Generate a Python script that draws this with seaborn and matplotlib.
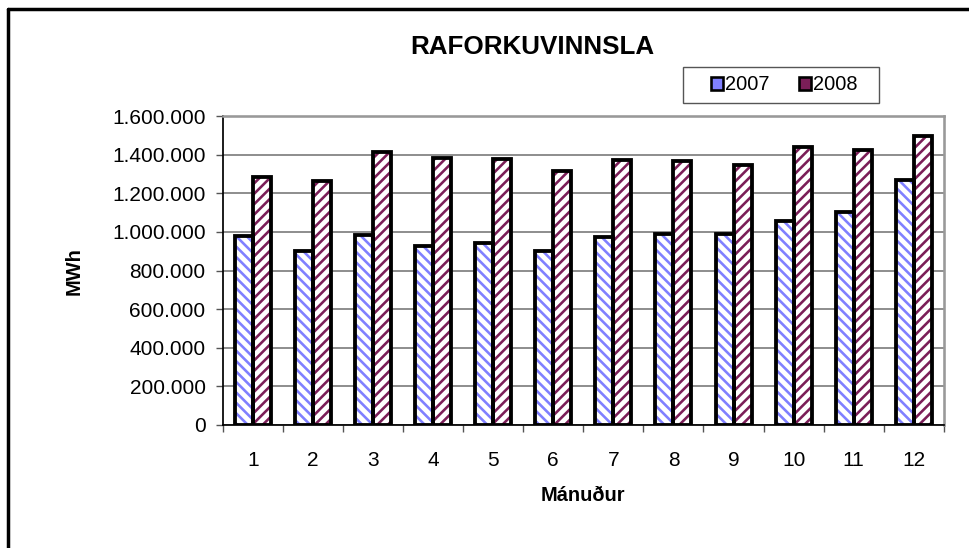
import pandas as pd
import seaborn as sns
import matplotlib.pyplot as plt
from matplotlib.patches import Rectangle, Patch
from matplotlib.lines import Line2D
from matplotlib.ticker import FuncFormatter, MultipleLocator

# monthly electricity production (MWh)
months = list(range(1, 13))
prod_2007 = [980000, 899000, 985000, 925000, 944000, 904000,
             973000, 992000, 987000, 1056000, 1105000, 1268000]
prod_2008 = [1286000, 1266000, 1412000, 1385000, 1379000, 1316000,
             1371000, 1367000, 1345000, 1438000, 1423000, 1497000]
years = ['2007', '2008']

df = pd.DataFrame({
    'Mánuður': months * 2,
    'MWh': prod_2007 + prod_2008,
    'Ár': [years[0]] * 12 + [years[1]] * 12,
})

sns.set_theme(style='white')
plt.rcParams['font.family'] = ['Liberation Sans', 'DejaVu Sans']
plt.rcParams['hatch.linewidth'] = 1.5
plt.rcParams['text.color'] = 'black'
plt.rcParams['axes.labelcolor'] = 'black'
plt.rcParams['xtick.labelcolor'] = 'black'
plt.rcParams['ytick.labelcolor'] = 'black'

fig = plt.figure(figsize=(969 / 125, 548 / 125), dpi=125)
ax = fig.add_axes([0.230, 0.2245, 0.744, 0.5635])

sns.barplot(data=df, x='Mánuður', y='MWh', hue='Ár', palette=['white', 'white'],
            width=0.6, gap=0, saturation=1, legend=False, ax=ax)

hatch_colors = {'2007': '#8080ff', '2008': '#7b1e58'}
hatches = {'2007': '\\\\\\\\', '2008': '////'}

for cont, yr in zip(ax.containers, years):
    for bar in cont:
        bar.set_hatch(hatches[yr])
        bar.set_edgecolor(hatch_colors[yr])
        bar.set_linewidth(0)
        ax.add_patch(Rectangle(bar.get_xy(), bar.get_width(), bar.get_height(),
                               fill=False, edgecolor='black', lw=2.2,
                               zorder=bar.get_zorder() + 0.1))

# axes styling
ax.set_xlim(-0.5, 11.5)
ax.set_ylim(0, 1600000)
ax.yaxis.set_major_locator(MultipleLocator(200000))
ax.yaxis.set_major_formatter(FuncFormatter(lambda v, p: f"{int(v):,}".replace(',', '.')))
ax.grid(axis='y', color='#808080', lw=1)
ax.set_axisbelow(True)
ax.xaxis.set_minor_locator(MultipleLocator(1, offset=0.5))
ax.tick_params(axis='x', which='major', length=0, pad=15, labelsize=12)
ax.tick_params(axis='x', which='minor', length=4, width=0.8, color='#555555', direction='out', bottom=True)
ax.tick_params(axis='y', length=4, width=0.8, color='#555555', direction='out', left=True, pad=6, labelsize=12)

for side in ['top', 'right']:
    ax.spines[side].set_color('#999999')
    ax.spines[side].set_linewidth(1.5)
for side in ['left', 'bottom']:
    ax.spines[side].set_color('black')
    ax.spines[side].set_linewidth(1)

ax.set_xlabel('Mánuður', fontsize=11.5, fontweight='bold', labelpad=9)
ax.set_ylabel('MWh', fontsize=11.5, fontweight='bold')
ax.yaxis.set_label_coords(-0.193, 0.5)

fig.text(0.549, 0.914, 'RAFORKUVINNSLA', ha='center', va='center',
         fontsize=15, fontweight='bold')

# legend: contents without frame, box drawn separately
handles = [Patch(facecolor=hatch_colors[y], edgecolor='black', lw=1.5) for y in years]
fig.legend(handles, years, loc='center', bbox_to_anchor=(784 / 969, 1 - 85 / 548), ncol=2,
           frameon=False, fontsize=11.5, handlelength=0.6, handleheight=0.6,
           handletextpad=0.1, columnspacing=1.5, borderpad=0, borderaxespad=0)
fig.add_artist(Rectangle((683 / 969, 1 - 103 / 548), 196 / 969, 36 / 548,
                         transform=fig.transFigure, fill=False, ec='#555555', lw=0.8))

# outer chart frame (left and top edges visible)
fig.add_artist(Line2D([8 / 969, 8 / 969], [0, 1 - 9 / 548], transform=fig.transFigure,
                      color='black', lw=2))
fig.add_artist(Line2D([8 / 969, 1], [1 - 9 / 548, 1 - 9 / 548], transform=fig.transFigure,
                      color='black', lw=2))

fig.savefig('out.png', dpi=125)
